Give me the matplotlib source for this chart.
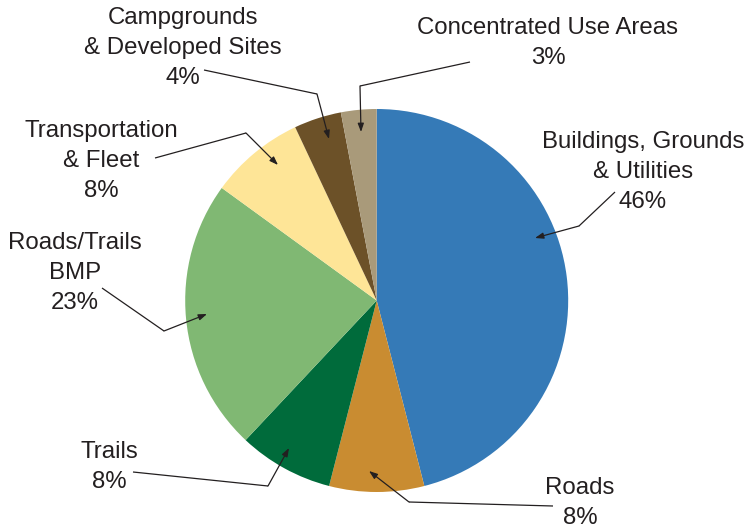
import matplotlib
matplotlib.use("Agg")
import matplotlib.pyplot as plt

# Share of spending by category (percent), clockwise from 12 o'clock
categories = [
    "Buildings, Grounds\n& Utilities",
    "Roads",
    "Trails",
    "Roads/Trails\nBMP",
    "Transportation\n& Fleet",
    "Campgrounds\n& Developed Sites",
    "Concentrated Use Areas",
]
shares = [46, 8, 8, 23, 8, 4, 3]
colors = ["#357AB7", "#C98C31", "#006B3B", "#80B873",
          "#FEE597", "#6C5128", "#A99A7A"]

W, H = 748, 529
plt.rcParams["font.family"] = ["Liberation Sans", "DejaVu Sans"]

fig = plt.figure(figsize=(W / 100, H / 100), dpi=100)
ax = fig.add_axes([0, 0, 1, 1])


def P(x, y):
    """Pixel coordinates (origin top-left) to axes data coordinates."""
    return (x, H - y)


ax.pie(shares, colors=colors, startangle=90, counterclock=False,
       center=P(376.7, 300.5), radius=191.5,
       wedgeprops=dict(linewidth=0), frame=True)
ax.set_xlim(0, W)
ax.set_ylim(0, H)
ax.axis("off")

# label centre, leader start, bend, arrow tip (pixel positions)
layout = [
    ((643, 172), (615, 192), (579, 226), (535, 238)),
    ((580, 503), (553, 506), (409, 502), (369, 471)),
    ((109, 467), (133, 472), (268, 486), (289, 448)),
    ((75, 273), (102, 288), (164, 331), (207, 314)),
    ((101, 161), (155, 158), (246, 133), (278, 165)),
    ((183, 48), (204, 70), (317, 94), (329, 139)),
    ((548, 43), (470, 62), (360, 86), (361, 132)),
]

line_kw = dict(color="#231F20", lw=0.9)
for name, val, (lab, start, bend, tip) in zip(categories, shares, layout):
    ax.text(*P(*lab), f"{name}\n{val}%", ha="center", va="center",
            fontsize=17.3, color="#231F20", linespacing=1.45)
    ax.plot([P(*start)[0], P(*bend)[0]], [P(*start)[1], P(*bend)[1]],
            solid_capstyle="butt", **line_kw)
    ax.annotate("", xy=P(*tip), xytext=P(*bend),
                arrowprops=dict(arrowstyle="-|>,head_length=0.5,head_width=0.18",
                                shrinkA=0, shrinkB=0, **line_kw))

fig.savefig("out.png", dpi=100)
